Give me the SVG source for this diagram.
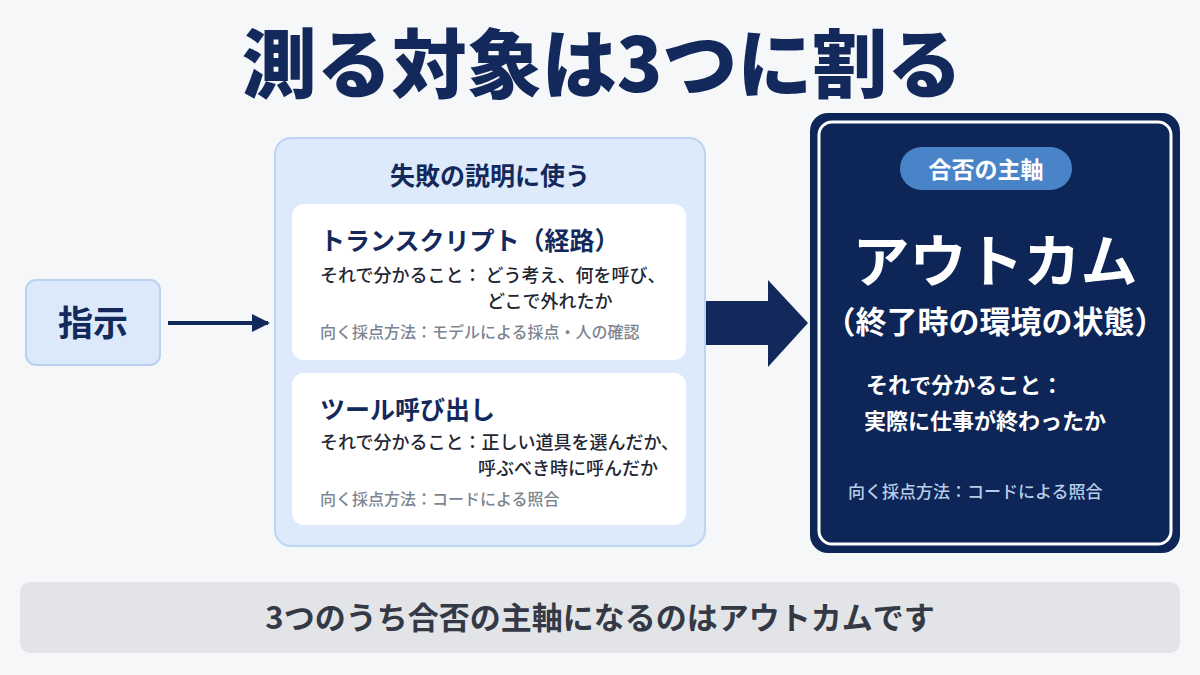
<svg xmlns="http://www.w3.org/2000/svg" width="1200" height="675" viewBox="0 0 1200 675">
<style>
text{font-family:"Noto Sans CJK JP","Noto Sans",sans-serif;font-weight:700}
.navy{fill:#13295b}
.dark{fill:#1f2733;font-weight:500}
.gray{fill:#7c8591;font-weight:500}
.w{fill:#fff}
</style>
<defs>
<marker id="ah" markerWidth="18" markerHeight="18" refX="16" refY="9" orient="auto" markerUnits="userSpaceOnUse"><path d="M0,0 L18,9 L0,18 Z" fill="#13295b"/></marker>
</defs>
<rect width="1200" height="675" fill="#f6f7f9"/>
<text x="602" y="92" font-size="75" text-anchor="middle" class="navy" style="font-weight:900">測る対象は3つに割る</text>
<g id="shiji">
<rect x="26" y="280" width="134" height="85" rx="10" fill="#dbe9fb" stroke="#b8d2f0" stroke-width="2"/>
<text x="93" y="336" font-size="35" text-anchor="middle" class="navy">指示</text>
</g>
<g id="connectors">
<line x1="168" y1="323" x2="268" y2="323" stroke="#13295b" stroke-width="4" marker-end="url(#ah)"/>
<path d="M705,301 L768,301 L768,280 L808,323 L768,367 L768,345 L705,345 Z" fill="#13295b"/>
</g>
<g id="explain">
<rect x="275" y="138" width="430" height="408" rx="16" fill="#dceafb" stroke="#bcd5f2" stroke-width="2"/>
<text x="490" y="185" font-size="25" text-anchor="middle" class="navy">失敗の説明に使う</text>
</g>
<g id="transcript">
<rect x="292" y="204" width="394" height="156" rx="12" fill="#fff"/>
<text x="320" y="250" font-size="25" class="navy">トランスクリプト（経路）</text>
<text x="320" y="282" font-size="18" class="dark">それで分かること： どう考え、何を呼び、</text>
<text x="487" y="308" font-size="18" class="dark">どこで外れたか</text>
<text x="320" y="338" font-size="16" class="gray">向く採点方法：モデルによる採点・人の確認</text>
</g>
<g id="tool">
<rect x="292" y="373" width="394" height="152" rx="12" fill="#fff"/>
<text x="320" y="419" font-size="25" class="navy">ツール呼び出し</text>
<text x="320" y="449" font-size="18" class="dark">それで分かること：正しい道具を選んだか、</text>
<text x="478" y="475" font-size="18" class="dark">呼ぶべき時に呼んだか</text>
<text x="320" y="505" font-size="16" class="gray">向く採点方法：コードによる照合</text>
</g>
<g id="outcome">
<rect x="810" y="113" width="370" height="440" rx="18" fill="#0d2557"/>
<rect x="819" y="122" width="352" height="422" rx="13" fill="none" stroke="#fff" stroke-width="3"/>
<rect x="900" y="147" width="172" height="43" rx="21.5" fill="#4a84c8"/>
<text x="986" y="178" font-size="23" text-anchor="middle" class="w">合否の主軸</text>
<text x="995" y="282" font-size="57" text-anchor="middle" class="w">アウトカム</text>
<text x="995" y="333" font-size="31" text-anchor="middle" class="w">（終了時の環境の状態）</text>
<text x="866" y="393" font-size="22" class="w">それで分かること：</text>
<text x="864" y="429" font-size="22" class="w">実際に仕事が終わったか</text>
<text x="848" y="498" font-size="17" fill="#b8cde8" style="font-weight:500">向く採点方法：コードによる照合</text>
</g>
<g id="summary">
<rect x="20" y="582" width="1160" height="71" rx="10" fill="#e3e4e7"/>
<text x="600" y="629" font-size="31" text-anchor="middle" fill="#333a45">3つのうち合否の主軸になるのはアウトカムです</text>
</g>
</svg>
